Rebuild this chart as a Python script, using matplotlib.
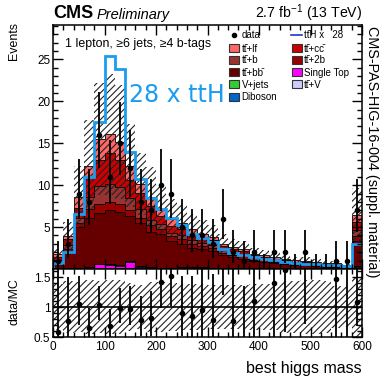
import numpy as np
import matplotlib
matplotlib.use("Agg")
import matplotlib.pyplot as plt
from matplotlib.patches import Rectangle
from matplotlib.lines import Line2D
from matplotlib.ticker import MultipleLocator, FixedLocator

plt.rcParams['font.family'] = ['Liberation Sans', 'DejaVu Sans']
plt.rcParams['mathtext.fontset'] = 'custom'
plt.rcParams['mathtext.rm'] = 'Liberation Sans'
plt.rcParams['mathtext.it'] = 'Liberation Sans:italic'
plt.rcParams['hatch.linewidth'] = 0.8

# binning: 30 bins of 20 GeV, last bin holds the overflow
edges = np.arange(0, 620, 20)

single_top = [0.03, 0.05, 0.08, 0.2, 0.55, 0.5, 0.4, 0.85, 0.25, 0.12, 0.08, 0.1, 0.15, 0.15, 0.15,
              0.12, 0.08, 0.06, 0.05, 0.08, 0.08, 0.04, 0.04, 0.04, 0.03, 0.03, 0.03, 0.03, 0.03, 0.12]
ttv = [0.02, 0.03, 0.05, 0.08, 0.1, 0.1, 0.1, 0.08, 0.08, 0.06, 0.05, 0.05, 0.05, 0.04, 0.04,
       0.04, 0.03, 0.03, 0.03, 0.03, 0.02, 0.02, 0.02, 0.02, 0.02, 0.02, 0.02, 0.02, 0.02, 0.1]
vjets = [0, 0, 0, 0, 0, 0.02, 0, 0, 0, 0, 0, 0, 0, 0, 0,
         0, 0, 0, 0, 0, 0, 0, 0, 0, 0, 0, 0, 0, 0, 0.1]
diboson = [0, 0, 0, 0, 0, 0, 0, 0, 0, 0, 0, 0, 0, 0, 0,
           0, 0, 0, 0, 0, 0, 0, 0, 0, 0, 0, 0, 0, 0, 0]
tt_bb = [0.58, 2.05, 4.9, 5.85, 6.08, 6.43, 6.33, 5.4, 5.1, 4.25, 4.0, 3.18, 2.83, 2.34, 2.14,
         1.97, 1.52, 1.34, 1.15, 0.82, 0.73, 0.67, 0.52, 0.42, 0.38, 0.28, 0.23, 0.18, 0.08, 3.0]
tt_2b = [0.2, 0.3, 0.5, 1.0, 1.0, 0.9, 0.9, 0.7, 0.7, 0.8, 0.6, 0.6, 0.5, 0.5, 0.4,
         0.4, 0.3, 0.2, 0.3, 0.2, 0.2, 0.1, 0.15, 0.1, 0.1, 0.1, 0.1, 0.1, 0.08, 0.6]
tt_b = [0.3, 0.4, 0.5, 1.4, 2.2, 2.2, 2.0, 1.4, 1.0, 0.6, 0.6, 0.4, 0.5, 0.4, 0.4,
        0.3, 0.3, 0.3, 0.2, 0.2, 0.1, 0.15, 0.1, 0.1, 0.1, 0.1, 0.07, 0.08, 0.07, 0.7]
tt_cc = [0.3, 0.7, 1.3, 2.4, 3.1, 3.7, 3.3, 2.2, 1.9, 1.7, 1.0, 0.8, 0.8, 0.8, 0.7,
         0.6, 0.5, 0.4, 0.4, 0.3, 0.3, 0.25, 0.2, 0.2, 0.2, 0.15, 0.16, 0.14, 0.11, 1.0]
tt_lf = [0.3, 0.4, 1.3, 1.3, 2.5, 2.2, 2.1, 1.7, 1.1, 1.0, 0.7, 0.8, 0.7, 0.5, 0.4,
         0.4, 0.3, 0.3, 0.3, 0.2, 0.2, 0.2, 0.2, 0.15, 0.15, 0.15, 0.12, 0.13, 0.09, 0.8]
tth_x28 = [0.75, 2.0, 6.5, 11.0, 17.5, 25.4, 23.8, 13.9, 10.7, 8.5, 7.2, 6.1, 5.2, 4.2, 3.7,
           3.2, 2.4, 1.85, 1.65, 1.45, 1.25, 1.05, 0.85, 0.75, 0.65, 0.6, 0.5, 0.45, 0.35, 2.95]
data = [1, 3, 9, 8, 16, 11, 15, 12, 8, 7, 10, 9, 5, 4, 4,
        3, 6, 2, 1, 2, 0, 2, 2, 0, 2, 0, 0, 1, 1, 7]
syst_rel = [0.38, 0.43, 0.42, 0.45, 0.43, 0.45, 0.45, 0.40, 0.37, 0.42, 0.42, 0.40, 0.38, 0.38, 0.38,
            0.37, 0.37, 0.36, 0.37, 0.38, 0.38, 0.38, 0.43, 0.44, 0.45, 0.45, 0.44, 0.35, 0.33, 0.50]

# Garwood 68% intervals (down, up) for small counts
garwood = {0: (0.0, 1.841), 1: (0.827, 2.300), 2: (1.292, 2.638), 3: (1.633, 2.918),
           4: (1.914, 3.162), 5: (2.160, 3.382), 6: (2.380, 3.583), 7: (2.581, 3.770),
           8: (2.768, 3.945), 9: (2.943, 4.109), 10: (3.108, 4.266), 11: (3.265, 4.415),
           12: (3.415, 4.559), 15: (3.829, 4.958), 16: (3.957, 5.083)}

components = [
    ('Single Top', single_top, '#ff00ff'),
    ('ttV', ttv, '#ccccff'),
    ('V+jets', vjets, '#33cc33'),
    ('Diboson', diboson, '#0066cc'),
    ('ttbb', tt_bb, '#660000'),
    ('tt2b', tt_2b, '#990000'),
    ('ttb', tt_b, '#993333'),
    ('ttcc', tt_cc, '#cc0000'),
    ('ttlf', tt_lf, '#ff6666'),
]

W, H = 380, 378
def fx(x):
    return x / W
def fy(y):
    return 1 - y / H

fig = plt.figure(figsize=(3.8, 3.78), dpi=100)
ax = fig.add_axes([fx(53), fy(269), (362 - 53) / W, (269 - 25) / H])
rax = fig.add_axes([fx(53), fy(337), (362 - 53) / W, (337 - 269) / H])

# stacked backgrounds
bottom = np.zeros(len(data))
for name, vals, col in components:
    vals = np.array(vals, dtype=float)
    ax.stairs(bottom + vals, edges, baseline=bottom, fill=True,
              facecolor=col, edgecolor='k', lw=0.6)
    bottom = bottom + vals
total = bottom
rel = np.array(syst_rel)

ax.stairs(total * (1 + rel), edges, baseline=total * (1 - rel), fill=True,
          facecolor='none', edgecolor='#222222', hatch='/////', lw=0)
ax.stairs(tth_x28, edges, baseline=0, color='#1a9cf0', lw=2.0)

centers = 0.5 * (edges[1:] + edges[:-1])
d = np.array(data, dtype=float)
elo = np.array([garwood[n][0] for n in data])
ehi = np.array([garwood[n][1] for n in data])
ax.errorbar(centers, d, yerr=[elo, ehi], fmt='none', ecolor='k', elinewidth=1.3, capsize=0)
nz = d > 0
ax.plot(centers[nz], d[nz], 'o', color='k', ms=3)

ax.set_xlim(0, 600)
ax.set_ylim(0, 29.1)
ax.xaxis.set_major_locator(MultipleLocator(100))
ax.xaxis.set_minor_locator(MultipleLocator(20))
ax.yaxis.set_major_locator(FixedLocator([5, 10, 15, 20, 25]))
ax.yaxis.set_minor_locator(MultipleLocator(1))
ax.tick_params(which='both', direction='in', top=True, right=True, labelbottom=False,
               labelsize=8.5, pad=2, width=1)
ax.tick_params(which='major', length=7)
ax.tick_params(which='minor', length=3.5)

# ratio panel
ratio = d / total
rax.stairs(1 + rel, edges, baseline=1 - rel, fill=True,
           facecolor='none', edgecolor='#222222', hatch='/////', lw=0)
rax.axhline(1, color='k', lw=1.2)
rax.errorbar(centers[nz], ratio[nz], yerr=[elo[nz] / total[nz], ehi[nz] / total[nz]],
             fmt='o', color='k', ms=3, elinewidth=1.3, capsize=0)
rax.set_xlim(0, 600)
rax.set_ylim(0.5, 1.635)
rax.xaxis.set_major_locator(MultipleLocator(100))
rax.xaxis.set_minor_locator(MultipleLocator(20))
rax.yaxis.set_major_locator(FixedLocator([0.5, 1.0, 1.5]))
rax.yaxis.set_minor_locator(MultipleLocator(0.1))
rax.set_yticklabels(['0.5', '1', '1.5'])
rax.tick_params(which='both', direction='in', top=True, right=True,
                labelsize=8.5, pad=2, width=1)
rax.tick_params(axis='x', pad=3)
rax.tick_params(which='major', length=7)
rax.tick_params(which='minor', length=3.5)

for a in (ax, rax):
    for s in a.spines.values():
        s.set_linewidth(1.1)

# header and labels
fig.text(fx(53), fy(18.5), 'CMS', fontsize=13, fontweight='bold', va='baseline')
fig.text(fx(97), fy(18.5), 'Preliminary', fontsize=10.5, style='italic', va='baseline')
fig.text(fx(362), fy(18.5), r'2.7 fb$^{-1}$ (13 TeV)', fontsize=10.2, ha='right', va='baseline')
fig.text(fx(65), fy(47.5), '1 lepton, \u22656 jets, \u22654 b-tags', fontsize=8.9, va='baseline')
fig.text(fx(129), fy(102), '28 x ttH', fontsize=17, color='#1a9cf0',
         family='DejaVu Sans', va='baseline')
fig.text(fx(368), fy(26), 'CMS-PAS-HIG-16-004 (suppl. material)', fontsize=10.4,
         rotation=270, rotation_mode='anchor', ha='left', va='baseline')
fig.text(fx(17), fy(22), 'Events', fontsize=8.9, rotation=90, rotation_mode='anchor',
         ha='right', va='baseline')
fig.text(fx(17), fy(302), 'data/MC', fontsize=8.9, rotation=90, rotation_mode='anchor',
         ha='center', va='baseline')
fig.text(fx(362), fy(372.5), 'best higgs mass', fontsize=11.5, ha='right', va='baseline')

# legend, drawn by hand in two columns
tt = 'tt\u0304'
leg_left = [(tt + '+lf', '#ff6666'), (tt + '+b', '#993333'), (tt + '+bb\u0304', '#660000'),
            ('V+jets', '#33cc33'), ('Diboson', '#0066cc')]
leg_right = [(tt + '+cc\u0304', '#cc0000'), (tt + '+2b', '#990000'),
             ('Single Top', '#ff00ff'), (tt + '+V', '#ccccff')]
rows = [48, 59.5, 72, 84, 96.5]
for (lab, col), y in zip(leg_left, rows):
    fig.add_artist(Rectangle((fx(229), fy(y + 4)), 10 / W, 8 / H, transform=fig.transFigure,
                             facecolor=col, edgecolor='#333333', lw=0.8))
    fig.text(fx(241.5), fy(y + 3.5), lab, fontsize=7.0, va='baseline')
for (lab, col), y in zip(leg_right, rows):
    fig.add_artist(Rectangle((fx(291.5), fy(y + 4)), 10 / W, 8 / H, transform=fig.transFigure,
                             facecolor=col, edgecolor='#333333', lw=0.8))
    fig.text(fx(304), fy(y + 3.5), lab, fontsize=7.0, va='baseline')
fig.add_artist(Line2D([fx(234)], [fy(35)], marker='o', ms=3, color='k',
                      transform=fig.transFigure))
fig.text(fx(241.5), fy(38.5), 'data', fontsize=7.0, va='baseline')
fig.add_artist(Line2D([fx(291), fx(302)], [fy(35), fy(35)], color='#2233cc', lw=1.2,
                      transform=fig.transFigure))
fig.text(fx(304), fy(38.5), tt + 'H x   28', fontsize=7.0, va='baseline')

fig.savefig('out.png', dpi=100)
